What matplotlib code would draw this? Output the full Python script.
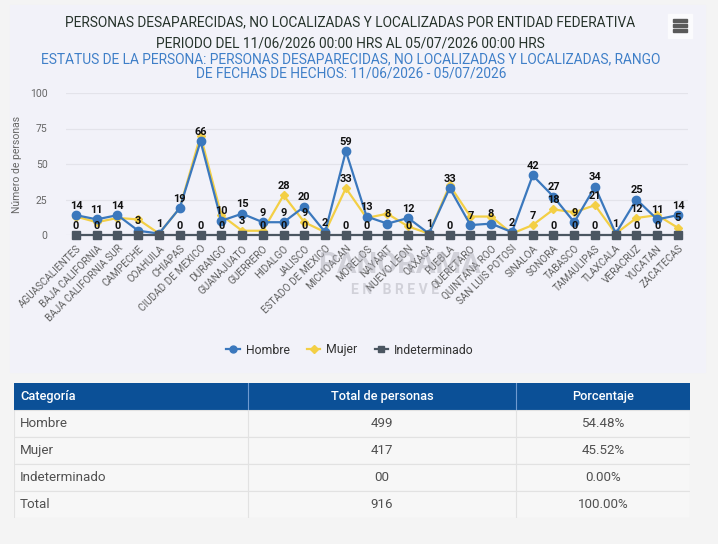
import matplotlib.pyplot as plt
from matplotlib.lines import Line2D
from matplotlib.patches import Rectangle

ESTADOS = ["AGUASCALIENTES", "BAJA CALIFORNIA", "BAJA CALIFORNIA SUR", "CAMPECHE",
           "COAHUILA", "CHIAPAS", "CIUDAD DE MEXICO", "DURANGO", "GUANAJUATO",
           "GUERRERO", "HIDALGO", "JALISCO", "ESTADO DE MEXICO", "MICHOACAN",
           "MORELOS", "NAYARIT", "NUEVO LEON", "OAXACA", "PUEBLA", "QUERETARO",
           "QUINTANA ROO", "SAN LUIS POTOSI", "SINALOA", "SONORA", "TABASCO",
           "TAMAULIPAS", "TLAXCALA", "VERACRUZ", "YUCATAN", "ZACATECAS"]
HOMBRE = [14, 11, 14, 3, 1, 19, 66, 10, 15, 9, 9, 20, 2, 59, 13, 8, 12, 1, 33, 7,
          8, 2, 42, 27, 9, 34, 1, 25, 11, 14]
MUJER = [13, 9, 12, 11, 1, 19, 70, 14, 3, 3, 28, 9, 2, 33, 12, 15, 6, 1, 35, 13,
         13, 1, 7, 18, 16, 21, 1, 12, 14, 5]
INDETERMINADO = [0] * 30
Y_TICKS = [0, 25, 50, 75, 100]

TABLA_CAT = ["Hombre", "Mujer", "Indeterminado", "Total"]
TABLA_TOTAL = ["499", "417", "00", "916"]
TABLA_PCT = ["54.48%", "45.52%", "0.00%", "100.00%"]
TABLA_HEAD = ["Categoría", "Total de personas", "Porcentaje"]

C_H, C_M, C_I = "#3b78bd", "#f3cf45", "#4b5661"
FONT = ["Roboto", "DejaVu Sans"]
plt.rcParams["font.family"] = FONT

W, H = 718, 544
fig = plt.figure(figsize=(W / 100, H / 100), dpi=100, facecolor="#f4f4f4")


def fx(px):
    return px / W


def fy(py):
    return 1 - py / H


# chart panel
fig.patches.append(Rectangle((fx(10), fy(372)), fx(695), 367 / H,
                             transform=fig.transFigure, color="#f2f2f9",
                             zorder=-5))
# menu icon
fig.patches.append(Rectangle((fx(668), fy(38)), fx(24), 24 / H,
                             transform=fig.transFigure, color="#fbfbfd",
                             zorder=-4))
for k in range(3):
    fig.patches.append(Rectangle((fx(673), fy(22 + 5 * k)), fx(14), 2.6 / H,
                                 transform=fig.transFigure, color="#5a5a5a",
                                 zorder=-3))

title_kw = dict(ha="center", va="center", fontsize=9.9)
fig.text(fx(350), fy(22), "PERSONAS DESAPARECIDAS, NO LOCALIZADAS Y LOCALIZADAS "
         "POR ENTIDAD FEDERATIVA", color="#26332b", **title_kw)
fig.text(fx(350), fy(43), "PERIODO DEL 11/06/2026 00:00 HRS AL 05/07/2026 00:00 HRS",
         color="#26332b", **title_kw)
fig.text(fx(351), fy(59), "ESTATUS DE LA PERSONA: PERSONAS DESAPARECIDAS, NO "
         "LOCALIZADAS Y LOCALIZADAS, RANGO", color="#3f7fc8", **title_kw)
fig.text(fx(351), fy(73), "DE FECHAS DE HECHOS: 11/06/2026 - 05/07/2026",
         color="#3f7fc8", **title_kw)

ax = fig.add_axes([fx(65.6), fy(235), fx(688.4 - 65.6), 142 / H])
ax.set_facecolor("none")
x = list(range(len(ESTADOS)))
ax.plot(x, HOMBRE, color=C_H, lw=1.6, marker="o", ms=6, zorder=4,
        clip_on=False)
ax.plot(x, MUJER, color=C_M, lw=1.6, marker="D", ms=4.5, zorder=3,
        clip_on=False)
ax.plot(x, INDETERMINADO, color=C_I, lw=1.6, marker="s", ms=6, zorder=5,
        clip_on=False)
ax.set_xlim(-0.5, len(ESTADOS) - 0.5)
ax.set_ylim(0, 100)
ax.set_yticks(Y_TICKS)
ax.set_yticklabels([str(t) for t in Y_TICKS], fontsize=7.5, color="#666666")
ax.set_xticks(x)
ax.set_xticklabels(ESTADOS, rotation=45, ha="right", rotation_mode="anchor",
                   fontsize=7.2, color="#606060")
ax.tick_params(axis="both", length=0)
ax.tick_params(axis="y", pad=13)
ax.tick_params(axis="x", pad=6)
ax.grid(axis="y", color="#e3e3ea", lw=0.9)
ax.set_axisbelow(True)
for s in ax.spines.values():
    s.set_visible(False)
ax.set_ylabel("Número de personas", fontsize=7.5, color="#666666", labelpad=6)

# data labels, hiding the ones that would overlap (series order = priority)
LABEL_GAP = 8.5
placed = [[] for _ in x]
for serie in (HOMBRE, MUJER, INDETERMINADO):
    for i, v in enumerate(serie):
        if any(abs(v - p) < LABEL_GAP for p in placed[i]):
            continue
        placed[i].append(v)
        ax.annotate(str(v), (i, v), textcoords="offset points", xytext=(0, 3.2),
                    ha="center", va="bottom", fontsize=7.9, fontweight="bold",
                    color="#111111", zorder=6)

# watermark
fig.text(fx(400), fy(265), "PANORAMA", ha="center", va="center", fontsize=21,
         fontweight="bold", color="#a9a9b2", alpha=0.45, zorder=10)
fig.text(fx(395), fy(290), "E N   B R E V E", ha="center", va="center",
         fontsize=10, fontweight="bold", color="#a9a9b2", alpha=0.45, zorder=10)

handles = [Line2D([], [], color=C_H, marker="o", ms=5, lw=1.6),
           Line2D([], [], color=C_M, marker="D", ms=4, lw=1.6),
           Line2D([], [], color=C_I, marker="s", ms=5, lw=1.6)]
fig.legend(handles, ["Hombre", "Mujer", "Indeterminado"], loc="center",
           bbox_to_anchor=(fx(350), fy(350)), ncol=3, frameon=False,
           fontsize=8.8, labelcolor="#333333", handlelength=1.1,
           handletextpad=0.5, columnspacing=1.4)

# table
tx = fig.add_axes([fx(14), fy(518), fx(676), 135 / H])
tx.set_xlim(0, 676)
tx.set_ylim(135, 0)
tx.axis("off")
cols = [0, 234, 502, 676]
row_h = 27
tx.add_patch(Rectangle((0, 0), 676, row_h, color="#0b5097"))
for c in cols[1:-1]:
    tx.plot([c, c], [0, row_h], color="#6f9ad0", lw=0.8)
for j, head in enumerate(TABLA_HEAD):
    if j == 0:
        tx.text(cols[0] + 6, row_h / 2, head, ha="left", va="center",
                color="white", fontsize=9.2, fontweight="medium")
    else:
        tx.text((cols[j] + cols[j + 1]) / 2, row_h / 2, head, ha="center",
                va="center", color="white", fontsize=9.2, fontweight="medium")
for r, (cat, tot, pct) in enumerate(zip(TABLA_CAT, TABLA_TOTAL, TABLA_PCT)):
    y0 = row_h * (r + 1)
    tx.add_patch(Rectangle((0, y0), 676, row_h, facecolor="#f7f7f7",
                           edgecolor="#e2e2e2", lw=0.8))
    for c in cols[1:-1]:
        tx.plot([c, c], [y0, y0 + row_h], color="#e2e2e2", lw=0.8)
    yc = y0 + row_h / 2
    tx.text(cols[0] + 6, yc, cat, ha="left", va="center", color="#505050",
            fontsize=9.6)
    tx.text((cols[1] + cols[2]) / 2, yc, tot, ha="center", va="center",
            color="#505050", fontsize=9.6)
    tx.text((cols[2] + cols[3]) / 2, yc, pct, ha="center", va="center",
            color="#505050", fontsize=9.6)

fig.savefig("out.png", dpi=100, facecolor=fig.get_facecolor())
